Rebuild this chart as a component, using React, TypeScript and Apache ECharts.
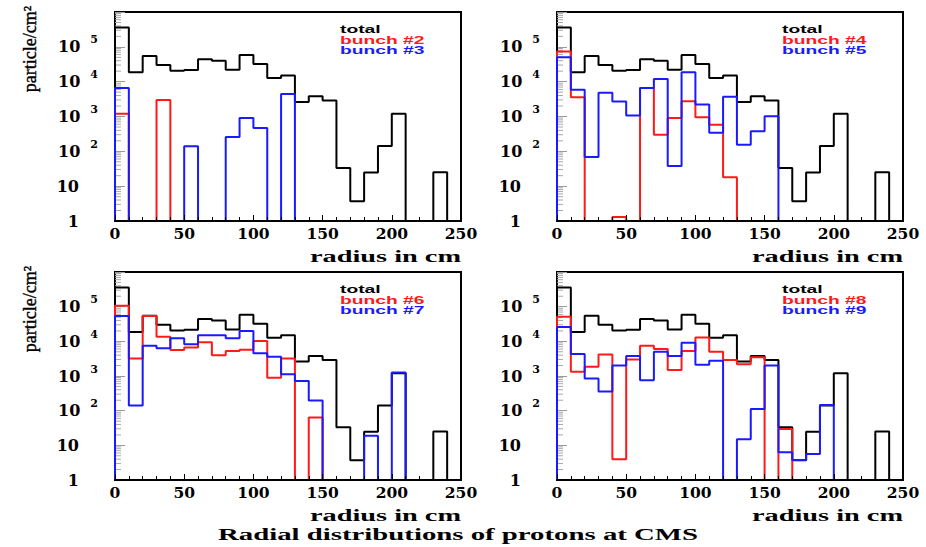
import React, { useEffect, useRef } from "react";
import * as echarts from "echarts";

// ---- data (bins of 10 cm, 0..250 cm) ----
const BIN_WIDTH = 10;
const xTickValues = [0, 50, 100, 150, 200, 250];
const Y_MIN = 1;
const Y_MAX = 1e6;

const total = [3.6e5, 1.85e4, 5.5e4, 3.0e4, 2.05e4, 2.15e4, 4.4e4, 4.0e4, 2.2e4, 5.8e4, 3.2e4, 1.27e4, 1.5e4, 2600, 3800, 2900, 33, 3.7, 24.5, 142, 1200, 0, 0, 25, 0];
const bunch2 = [1200, 0, 0, 3000, 0, 0, 0, 0, 0, 0, 0, 0, 0, 0, 0, 0, 0, 0, 0, 0, 0, 0, 0, 0, 0];
const bunch3 = [6600, 0, 0, 0, 0, 139, 0, 0, 257, 900, 464, 0, 4450, 0, 0, 0, 0, 0, 0, 0, 0, 0, 0, 0, 0];
const bunch4 = [7.4e4, 3550, 0, 0, 1.3, 0, 6600, 300, 900, 2750, 950, 580, 18, 0, 0, 0, 0, 0, 0, 0, 0, 0, 0, 0, 0];
const bunch5 = [5.0e4, 5900, 69, 4800, 2700, 1070, 6600, 1.2e4, 38, 1.85e4, 2200, 340, 3700, 155, 380, 1020, 0, 0, 0, 0, 0, 0, 0, 0, 0];
const bunch6 = [1.07e5, 3200, 5.4e4, 1.36e4, 5600, 6600, 9400, 4000, 5300, 5700, 1.02e4, 890, 3200, 0, 64, 0, 0, 0, 0, 0, 0, 0, 0, 0, 0];
const bunch7 = [5.4e4, 140, 7400, 6300, 1.23e4, 8200, 1.5e4, 1.5e4, 1.23e4, 2.0e4, 4500, 3600, 1120, 720, 195, 0, 0, 0, 19, 0, 1260, 0, 0, 0, 0];
const bunch8 = [5.1e4, 1330, 1860, 4200, 4, 3000, 7400, 6000, 1490, 5300, 1.3e4, 5000, 2900, 2200, 3450, 0, 29.6, 0, 0, 0, 0, 0, 0, 0, 0];
const bunch9 = [2.6e4, 4300, 850, 355, 2000, 3800, 760, 5000, 3800, 9100, 2100, 2760, 0, 15, 112, 2000, 6.3, 3.8, 5.6, 145, 0, 0, 0, 0, 0];

const panelNames = [
  ["total", "bunch #2", "bunch #3"],
  ["total", "bunch #4", "bunch #5"],
  ["total", "bunch #6", "bunch #7"],
  ["total", "bunch #8", "bunch #9"],
];
const panelValues = [
  [total, bunch2, bunch3],
  [total, bunch4, bunch5],
  [total, bunch6, bunch7],
  [total, bunch8, bunch9],
];
const xAxisTitle = "radius in cm";
const yAxisTitle = "particle/cm²";
const mainTitle = "Radial distributions of protons at CMS";

// ---- layout / style ----
const COLORS = ["#000000", "#ff1a1a", "#1a1aff"];
const grids = [
  { left: 115, top: 12, width: 346, height: 209 },
  { left: 557, top: 12, width: 346, height: 209 },
  { left: 115, top: 272, width: 346, height: 208 },
  { left: 557, top: 272, width: 346, height: 208 },
];
const SERIF = "'DejaVu Serif', 'Liberation Serif', serif";
const TSERIF = "'Liberation Serif', 'Times New Roman', serif";
const SANS = "'Liberation Sans', Arial, sans-serif";

const minorTickValues: number[] = [];
for (let k = 0; k < 6; k++) for (let m = 2; m <= 9; m++) minorTickValues.push(m * Math.pow(10, k));

function histPoints(values: number[]): [number, number][] {
  const pts: [number, number][] = [[0, Y_MIN]];
  values.forEach((v, i) => pts.push([i * BIN_WIDTH, v > 0 ? v : Y_MIN]));
  const last = values[values.length - 1];
  pts.push([values.length * BIN_WIDTH, last > 0 ? last : Y_MIN]);
  pts.push([values.length * BIN_WIDTH, Y_MIN]);
  return pts;
}

function yLabel(v: number): string {
  const e = Math.round(Math.log10(v));
  if (e >= 6) return "";
  if (e === 0) return "{b|1}{s|}";
  if (e === 1) return "{b|10}{s|}";
  return "{b|10}{g|}{e|" + e + "}";
}

export default function App() {
  const ref = useRef<HTMLDivElement>(null);
  useEffect(() => {
    if (!ref.current) return;
    const chart = echarts.init(ref.current, undefined, { renderer: "svg" });
    const xAxes: any[] = [];
    const yAxes: any[] = [];
    const series: any[] = [];
    const graphics: any[] = [];

    grids.forEach((g, i) => {
      xAxes.push({
        type: "value",
        gridIndex: i,
        min: xTickValues[0],
        max: xTickValues[xTickValues.length - 1],
        interval: 50,
        z: 10,
        axisLine: { show: true, onZero: false, lineStyle: { color: "#000", width: 2 } },
        axisTick: { show: true, inside: true, length: 6, lineStyle: { color: "#000", width: 1 } },
        minorTick: { show: true, splitNumber: 5, length: 4, lineStyle: { color: "#000", width: 1 } },
        splitLine: { show: false },
        axisLabel: {
          margin: 4,
          fontFamily: SERIF,
          fontWeight: "bold",
          fontSize: 15.5,
          color: "#000",
          showMinLabel: true,
          showMaxLabel: true,
        },
      });
      yAxes.push({
        type: "log",
        logBase: 10,
        gridIndex: i,
        min: Y_MIN,
        max: Y_MAX,
        splitNumber: 6,
        axisLine: { show: false },
        axisTick: { show: true, inside: true, length: 10, lineStyle: { color: "#9a9a9a", width: 1 } },
        splitLine: { show: false },
        axisLabel: {
          margin: 17,
          formatter: yLabel,
          rich: {
            b: { fontFamily: SERIF, fontWeight: "bold", fontSize: 16, color: "#000" },
            s: { width: 19 },
            g: { width: 10 },
            e: { fontFamily: SERIF, fontWeight: "bold", fontSize: 11, color: "#000", padding: [0, 0, 14, 0] },
          },
        },
      });
      // minor log ticks
      series.push({
        type: "custom",
        xAxisIndex: i,
        yAxisIndex: i,
        silent: true,
        z: 1,
        data: minorTickValues.map((v) => [0, v]),
        renderItem: (_p: any, api: any) => {
          const pt = api.coord([0, api.value(1)]);
          return {
            type: "line",
            shape: { x1: pt[0], y1: pt[1], x2: pt[0] + 6, y2: pt[1] },
            style: { stroke: "#a8a8a8", lineWidth: 1 },
          };
        },
      });
      panelValues[i].forEach((vals, k) => {
        series.push({
          type: "line",
          name: panelNames[i][k],
          xAxisIndex: i,
          yAxisIndex: i,
          step: "end",
          symbol: "none",
          showSymbol: false,
          silent: true,
          z: 2 + k,
          lineStyle: { color: COLORS[k], width: 2 },
          data: histPoints(vals),
        });
      });
      // legend-like labels
      panelNames[i].forEach((name, k) => {
        graphics.push({
          type: "text",
          x: g.left + 225,
          y: g.top + 17.5 + k * 10.5,
          scaleX: 1.75,
          style: {
            text: name,
            fill: COLORS[k],
            font: "bold 11px " + SANS,
            align: "left",
            verticalAlign: "middle",
          },
        });
      });
      // x-axis title
      graphics.push({
        type: "text",
        x: g.left + g.width,
        y: g.top + g.height + 36,
        scaleX: 1.77,
        style: {
          text: xAxisTitle,
          fill: "#000",
          font: "bold 16px " + TSERIF,
          align: "right",
          verticalAlign: "middle",
        },
      });
      if (i % 2 === 0) {
        graphics.push({
          type: "text",
          x: 30,
          y: g.top + 37,
          rotation: Math.PI / 2,
          scaleY: 1.0,
          style: {
            text: yAxisTitle,
            fill: "#000",
            font: "18px " + TSERIF,
            align: "center",
            verticalAlign: "middle",
            stroke: "#000",
            lineWidth: 0.4,
          },
        });
      }
    });

    graphics.push({
      type: "text",
      x: 458,
      y: 535,
      scaleX: 1.8,
      style: {
        text: mainTitle,
        fill: "#000",
        font: "bold 16px " + TSERIF,
        align: "center",
        verticalAlign: "middle",
      },
    });

    chart.setOption({
      animation: false,
      backgroundColor: "#fff",
      grid: grids.map((g) => ({
        ...g,
        show: true,
        borderColor: "#000",
        borderWidth: 2,
        backgroundColor: "transparent",
        containLabel: false,
      })),
      xAxis: xAxes,
      yAxis: yAxes,
      series,
      graphic: graphics,
    });
    return () => chart.dispose();
  }, []);
  return (
    <div
      ref={ref}
      style={{ position: "absolute", left: 0, top: 0, width: 926, height: 547 }}
    />
  );
}
